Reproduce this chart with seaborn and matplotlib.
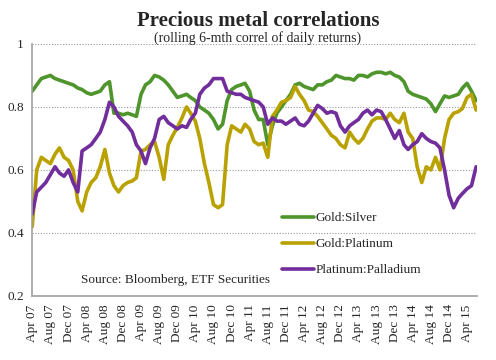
import pandas as pd
import numpy as np
import matplotlib
matplotlib.use("Agg")
import matplotlib.pyplot as plt
import matplotlib.dates as mdates
import seaborn as sns

# monthly points, Apr 2007 .. Jun 2015
dates = pd.date_range("2007-04-01", "2015-06-01", freq="MS")

gold_silver = [0.85, 0.87, 0.89, 0.895, 0.90, 0.89, 0.885, 0.88, 0.875, 0.87,
               0.86, 0.855, 0.845, 0.84, 0.845, 0.85, 0.87, 0.88, 0.78, 0.78,
               0.775, 0.78, 0.775, 0.77, 0.84, 0.87, 0.88, 0.90, 0.895, 0.885,
               0.87, 0.85, 0.83, 0.835, 0.84, 0.83, 0.82, 0.80, 0.79, 0.78,
               0.76, 0.73, 0.745, 0.82, 0.855, 0.865, 0.87, 0.875, 0.85, 0.79,
               0.76, 0.76, 0.68, 0.74, 0.78, 0.80, 0.82, 0.84, 0.87, 0.875,
               0.865, 0.86, 0.855, 0.87, 0.87, 0.88, 0.885, 0.90, 0.895, 0.89,
               0.89, 0.885, 0.90, 0.90, 0.895, 0.905, 0.91, 0.91, 0.905, 0.91,
               0.90, 0.895, 0.88, 0.85, 0.84, 0.835, 0.83, 0.825, 0.81, 0.785,
               0.81, 0.835, 0.83, 0.835, 0.84, 0.86, 0.875, 0.85, 0.82]

gold_platinum = [0.42, 0.60, 0.64, 0.63, 0.62, 0.65, 0.67, 0.64, 0.63, 0.60,
                 0.50, 0.47, 0.53, 0.56, 0.575, 0.61, 0.665, 0.59, 0.55, 0.53,
                 0.55, 0.56, 0.565, 0.575, 0.66, 0.665, 0.68, 0.69, 0.64, 0.57,
                 0.68, 0.71, 0.735, 0.765, 0.80, 0.78, 0.755, 0.70, 0.62, 0.56,
                 0.49, 0.48, 0.49, 0.68, 0.74, 0.73, 0.72, 0.745, 0.73, 0.69,
                 0.68, 0.685, 0.64, 0.77, 0.79, 0.815, 0.82, 0.83, 0.865, 0.84,
                 0.82, 0.79, 0.785, 0.77, 0.75, 0.73, 0.71, 0.70, 0.68, 0.67,
                 0.72, 0.70, 0.685, 0.70, 0.73, 0.755, 0.765, 0.765, 0.76, 0.78,
                 0.76, 0.75, 0.78, 0.72, 0.70, 0.61, 0.56, 0.61, 0.60, 0.64,
                 0.60, 0.70, 0.76, 0.78, 0.785, 0.795, 0.83, 0.84, 0.79]

platinum_palladium = [0.46, 0.53, 0.545, 0.56, 0.585, 0.61, 0.59, 0.58, 0.60, 0.56,
                      0.53, 0.66, 0.67, 0.68, 0.70, 0.72, 0.76, 0.815, 0.80, 0.77,
                      0.755, 0.74, 0.72, 0.68, 0.66, 0.62, 0.67, 0.70, 0.76, 0.77,
                      0.75, 0.74, 0.73, 0.74, 0.735, 0.76, 0.78, 0.84, 0.86, 0.87,
                      0.89, 0.89, 0.89, 0.85, 0.845, 0.84, 0.84, 0.83, 0.825, 0.82,
                      0.815, 0.80, 0.745, 0.765, 0.755, 0.755, 0.745, 0.755, 0.765, 0.745,
                      0.74, 0.755, 0.78, 0.805, 0.795, 0.78, 0.785, 0.78, 0.74, 0.72,
                      0.74, 0.75, 0.76, 0.78, 0.79, 0.775, 0.79, 0.785, 0.76, 0.73,
                      0.70, 0.725, 0.68, 0.665, 0.68, 0.69, 0.715, 0.70, 0.69, 0.685,
                      0.67, 0.60, 0.52, 0.48, 0.51, 0.525, 0.54, 0.55, 0.61]

labels = ["Gold:Silver", "Gold:Platinum", "Platinum:Palladium"]
colors = ["#4E952B", "#B9A100", "#722D9C"]

df = pd.concat([
    pd.DataFrame({"date": dates, "corr": gold_silver, "pair": labels[0]}),
    pd.DataFrame({"date": dates, "corr": gold_platinum, "pair": labels[1]}),
    pd.DataFrame({"date": dates, "corr": platinum_palladium, "pair": labels[2]}),
])

sns.set_style("white")
plt.rcParams["font.family"] = ["Liberation Serif", "DejaVu Serif"]

fig = plt.figure(figsize=(4.96, 3.6), dpi=100)
ax = fig.add_axes([0.065, 0.178, 0.897, 0.7])

sns.lineplot(data=df, x="date", y="corr", hue="pair", palette=colors,
             linewidth=2.6, ax=ax)

ax.set_ylim(0.2, 1.0)
ax.set_yticks([0.2, 0.4, 0.6, 0.8, 1.0])
ax.set_yticklabels(["0.2", "0.4", "0.6", "0.8", "1"], fontsize=9.5)
ax.set_xlim(pd.Timestamp("2007-04-01"), pd.Timestamp("2015-06-08"))

ticks = pd.date_range("2007-04-01", "2015-04-01", freq="4MS")
ax.set_xticks(ticks)
ax.set_xticklabels([t.strftime("%b %y") for t in ticks], rotation=90, fontsize=9.5)

ax.grid(axis="y", color="#999999", linestyle=(0, (1, 1.5)), linewidth=0.8)
ax.set_axisbelow(True)
for s in ["top", "right"]:
    ax.spines[s].set_visible(False)
for s in ["left", "bottom"]:
    ax.spines[s].set_color("#a0a0a0")
    ax.spines[s].set_linewidth(1.2)
ax.tick_params(axis="both", which="both", length=4, color="#a0a0a0", pad=2)
ax.set_xlabel("")
ax.set_ylabel("")

ax.legend(loc="upper left", bbox_to_anchor=(0.535, 0.38), frameon=False,
          fontsize=9.5, labelspacing=1.05, handlelength=2.4, handletextpad=0.15)

ax.text(0.11, 0.065, "Source: Bloomberg, ETF Securities", transform=ax.transAxes,
        fontsize=9.5, ha="left", va="center")

fig.text(0.52, 0.943, "Precious metal correlations", ha="center", va="center",
         fontsize=15, fontweight="bold")
fig.text(0.52, 0.894, "(rolling 6-mth correl of daily returns)", ha="center",
         va="center", fontsize=10)

fig.savefig("out.png", dpi=100)
